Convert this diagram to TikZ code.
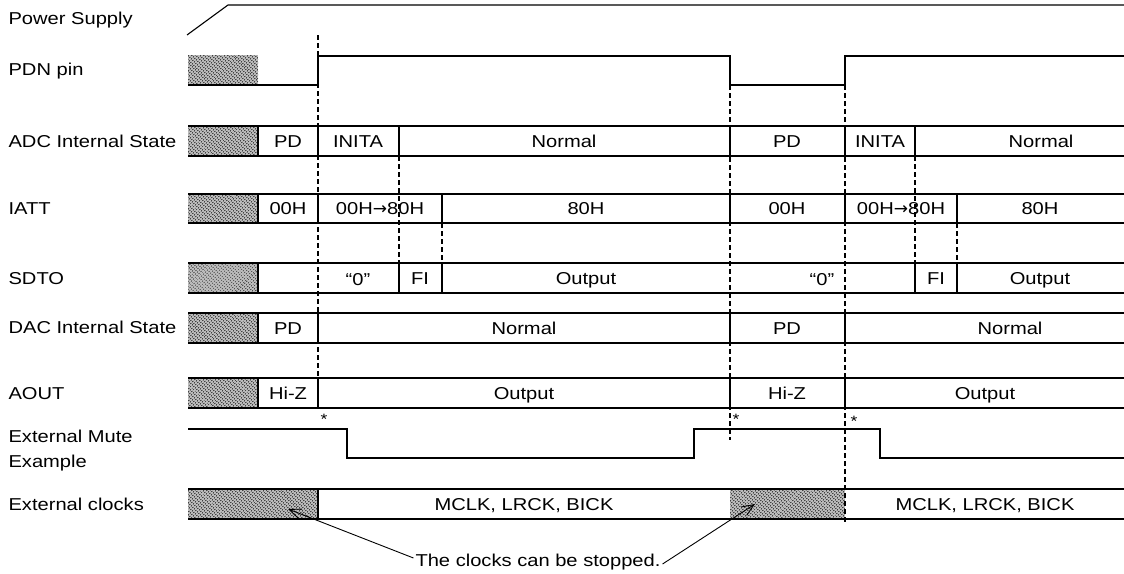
\documentclass[tikz,border=0pt]{standalone}
\usepackage{fontspec}
\setmainfont{Liberation Sans}[FakeStretch=1.17]
\newfontfamily\symf{DejaVu Sans}
\usetikzlibrary{patterns.meta,arrows.meta}
\newcommand{\rarr}{{\symf\fontsize{17}{18}\selectfont →}}
\begin{document}
\begin{tikzpicture}[x=1pt,y=-1pt,line width=1.1pt,
  lbl/.style={anchor=west,inner sep=0pt,text height=12.3pt,text depth=0pt,font=\fontsize{17.2}{20}\selectfont},
  txt/.style={inner sep=0pt,text height=12.3pt,text depth=0pt,font=\fontsize{17.2}{20}\selectfont},
  star/.style={inner sep=0pt,font=\fontsize{15}{16}\selectfont},
  hatchbg/.style={fill=gray!50},
  hatch/.style={pattern={Lines[angle=45,distance=2.1213pt,line width=1pt]}},
  dsh/.style={dash pattern=on 5pt off 3pt,line width=1.1pt},
  arr/.style={line width=0.9pt,-{Straight Barb[length=12pt,width=10pt,line width=0.9pt]}}]
\useasboundingbox (0,0) rectangle (1124,573);

% labels
\node[lbl] (lps) at (8,18) {Power Supply};
\node[lbl] (lpdn) at (8,69) {PDN pin};
\node[lbl] (ladc) at (8,141) {ADC Internal State};
\node[lbl] (liatt) at (8,208) {IATT};
\node[lbl] (lsdto) at (8,278) {SDTO};
\node[lbl] (ldac) at (8,327) {DAC Internal State};
\node[lbl] (laout) at (8,393) {AOUT};
\node[lbl] (lmute1) at (8,436) {External Mute};
\node[lbl] (lmute2) at (8,461) {Example};
\node[lbl] (lclk) at (8,504) {External clocks};

% hatched regions
\foreach \a/\b/\c/\d in {188/55/258/85, 188/126/258/156, 188/194/258/223, 188/263/258/293,
  188/313/258/343, 188/378/258/408, 188/489/318/519, 730/489/845/519}{
  \fill[hatchbg] (\a,\b) rectangle (\c,\d);
  \fill[hatch] (\a,\b) rectangle (\c,\d);
}

% dashed timing marks
\draw[dsh] (318,35) -- (318,408);
\draw[dsh] (399,156) -- (399,263);
\draw[dsh] (442,223) -- (442,263);
\draw[dsh] (730,85) -- (730,440);
\draw[dsh] (845,85) -- (845,523);
\draw[dsh] (915,156) -- (915,263);
\draw[dsh] (957,223) -- (957,263);

% power supply
\draw (187,35) -- (228,5) -- (1124,5);
% PDN
\draw (188,85) -- (318,85) -- (318,56) -- (730,56) -- (730,85) -- (845,85) -- (845,56) -- (1124,56);

% ADC row
\draw (188,126) -- (1124,126) (188,156) -- (1124,156);
\foreach \x in {258,318,399,730,845,915} \draw (\x,126) -- (\x,156);
\node[txt] (a1) at (288,141) {PD};
\node[txt] (a2) at (358,141) {INITA};
\node[txt] (a3) at (564,141) {Normal};
\node[txt] (a4) at (787,141) {PD};
\node[txt] (a5) at (880,141) {INITA};
\node[txt] (a6) at (1041,141) {Normal};

% IATT row
\draw (188,194) -- (1124,194) (188,223) -- (1124,223);
\foreach \x in {258,318,442,730,845,957} \draw (\x,194) -- (\x,223);
\node[txt] (i1) at (288,208.5) {00H};
\node[txt] (i2) at (380,208.5) {00H\rarr80H};
\node[txt] (i3) at (586,208.5) {80H};
\node[txt] (i4) at (787,208.5) {00H};
\node[txt] (i5) at (901,208.5) {00H\rarr80H};
\node[txt] (i6) at (1040,208.5) {80H};

% SDTO row
\draw (188,263) -- (1124,263) (188,293) -- (1124,293);
\foreach \x in {258,399,442,915,957} \draw (\x,263) -- (\x,293);
\node[txt] (s1) at (358,279) {“0”};
\node[txt] (s2) at (420,278) {FI};
\node[txt] (s3) at (586,278) {Output};
\node[txt] (s4) at (822,279) {“0”};
\node[txt] (s5) at (936,278) {FI};
\node[txt] (s6) at (1040,278) {Output};

% DAC row
\draw (188,313) -- (1124,313) (188,343) -- (1124,343);
\foreach \x in {258,318,730,845} \draw (\x,313) -- (\x,343);
\node[txt] (d1) at (288,328) {PD};
\node[txt] (d2) at (524,328) {Normal};
\node[txt] (d3) at (787,328) {PD};
\node[txt] (d4) at (1010,328) {Normal};

% AOUT row
\draw (188,378) -- (1124,378) (188,408) -- (1124,408);
\foreach \x in {258,318,730,845} \draw (\x,378) -- (\x,408);
\node[txt] (o1) at (288,393) {Hi-Z};
\node[txt] (o2) at (524,393) {Output};
\node[txt] (o3) at (787,393) {Hi-Z};
\node[txt] (o4) at (985,393) {Output};

% stars
\node[star] (st1) at (324,419) {*};
\node[star] (st2) at (736,419) {*};
\node[star] (st3) at (854,421) {*};

% external mute
\draw (188,429) -- (347,429) -- (347,458) -- (694,458) -- (694,429) -- (880,429) -- (880,458) -- (1124,458);

% clocks row
\draw (188,489) -- (1124,489) (188,519) -- (1124,519);
\draw (318,489) -- (318,519);
\node[txt] (c1) at (524,504) {MCLK, LRCK, BICK};
\node[txt] (c2) at (985,504) {MCLK, LRCK, BICK};

% note
\node[txt,inner sep=1.5pt] (note) at (538,560) {The clocks can be stopped.};
\coordinate (h1) at (288,509);
\coordinate (h2) at (755,504);
\draw[arr] ([yshift=2pt]note.west) -- (h1);
\draw[arr] ([yshift=-4pt]note.east) -- (h2);
\end{tikzpicture}
\end{document}
